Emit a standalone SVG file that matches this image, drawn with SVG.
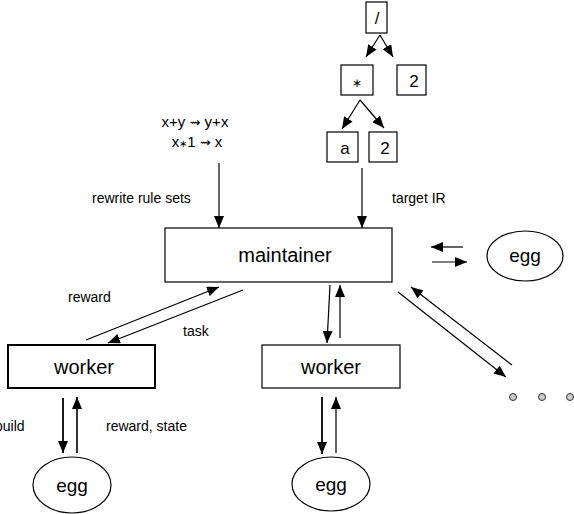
<svg xmlns="http://www.w3.org/2000/svg" width="574" height="514" viewBox="0 0 574 514">
<defs>
<marker id="ah" viewBox="0 0 12 10" refX="12" refY="5" markerWidth="12" markerHeight="10" markerUnits="userSpaceOnUse" orient="auto">
<path d="M0,0 L12,5 L0,10 z" fill="#000"/>
</marker>
</defs>
<style>
.box{fill:#fff;stroke:#000;stroke-width:1.2}
.thick{stroke-width:2}
.lbl{font-family:"Liberation Sans",Arial,sans-serif;fill:#000}
.node{font-size:20px;text-anchor:middle}
.egg{font-size:19px;text-anchor:middle}
.small{font-size:14px}
.tree{font-size:17px;text-anchor:middle}
.c{fill:none;stroke:#000;stroke-width:1.2;marker-end:url(#ah)}
.dot{fill:#ccc;stroke:#333;stroke-width:1}
.sq{font-family:"DejaVu Sans",sans-serif;font-size:13px}
</style>
<rect width="574" height="514" fill="#fff"/>
<g id="connectors">
<line class="c" x1="380" y1="35" x2="366" y2="57"/>
<line class="c" x1="380" y1="35" x2="393" y2="57"/>
<line class="c" x1="360" y1="100" x2="342" y2="129"/>
<line class="c" x1="360" y1="100" x2="384" y2="128"/>
<line class="c" x1="219" y1="163" x2="219" y2="228"/>
<line class="c" x1="362" y1="168" x2="362" y2="228"/>
<line class="c" x1="463" y1="247" x2="431" y2="247"/>
<line class="c" x1="432" y1="262" x2="467" y2="262"/>
<line class="c" x1="86" y1="340" x2="219" y2="287"/>
<line class="c" x1="243" y1="290" x2="108" y2="343"/>
<line class="c" x1="330" y1="285" x2="327" y2="343"/>
<line class="c" x1="340" y1="338" x2="340" y2="285"/>
<line class="c" x1="512" y1="365" x2="411" y2="287"/>
<line class="c" x1="398" y1="292" x2="506" y2="377"/>
<line class="c" style="stroke-width:1.8" x1="63" y1="398" x2="63" y2="453"/>
<line class="c" style="stroke-width:1.6" x1="77" y1="453" x2="77" y2="397"/>
<line class="c" style="stroke-width:1.8" x1="322" y1="397" x2="322" y2="454"/>
<line class="c" x1="336" y1="453" x2="336" y2="397"/>
</g>
<g id="div">
<rect class="box" x="366" y="2" width="21" height="31"/>
<text class="lbl tree" x="377" y="24">/</text>
</g>
<g id="mul">
<rect class="box" x="341" y="65" width="32" height="30"/>
<text class="lbl" style="font-size:12px;text-anchor:middle" x="357" y="87">∗</text>
</g>
<g id="two1">
<rect class="box" x="397" y="65" width="29" height="30"/>
<text class="lbl tree" x="414" y="87">2</text>
</g>
<g id="a">
<rect class="box" x="327" y="132" width="31" height="30"/>
<text class="lbl tree" x="345" y="154">a</text>
</g>
<g id="two2">
<rect class="box" x="369" y="132" width="28" height="30"/>
<text class="lbl tree" x="385" y="154">2</text>
</g>
<g id="rules">
<text class="lbl" style="font-size:15px;text-anchor:middle" x="195" y="127">x+y <tspan class="sq">⇝</tspan> y+x</text>
<text class="lbl" style="font-size:15px;text-anchor:middle" x="197" y="147">x<tspan font-size="10">∗</tspan>1 <tspan class="sq">⇝</tspan> x</text>
</g>
<g id="labels">
<text class="lbl small" x="92" y="203">rewrite rule sets</text>
<text class="lbl small" x="392" y="203">target IR</text>
<text class="lbl small" x="68" y="302">reward</text>
<text class="lbl small" x="183" y="336">task</text>
<text class="lbl small" x="-5" y="431">build</text>
<text class="lbl small" x="106" y="431">reward, state</text>
</g>
<g id="maintainer">
<rect class="box" x="165" y="228" width="227" height="54"/>
<text class="lbl node" x="285" y="262">maintainer</text>
</g>
<g id="egg-right">
<ellipse class="box" cx="525" cy="256" rx="38" ry="25"/>
<text class="lbl egg" x="525" y="262">egg</text>
</g>
<g id="worker-left">
<rect class="box thick" x="8" y="345" width="147" height="43"/>
<text class="lbl node" x="84" y="374">worker</text>
</g>
<g id="worker-mid">
<rect class="box" x="262" y="345" width="138" height="43"/>
<text class="lbl node" x="331" y="374">worker</text>
</g>
<g id="egg-left">
<ellipse class="box" cx="72" cy="485" rx="39" ry="28"/>
<text class="lbl egg" x="72" y="492">egg</text>
</g>
<g id="egg-mid">
<ellipse class="box" cx="331" cy="484" rx="39" ry="27"/>
<text class="lbl egg" x="331" y="491">egg</text>
</g>
<g id="more">
<circle class="dot" cx="513" cy="397" r="3.5"/>
<circle class="dot" cx="542" cy="397" r="3.5"/>
<circle class="dot" cx="570" cy="397" r="3.5"/>
</g>
</svg>
